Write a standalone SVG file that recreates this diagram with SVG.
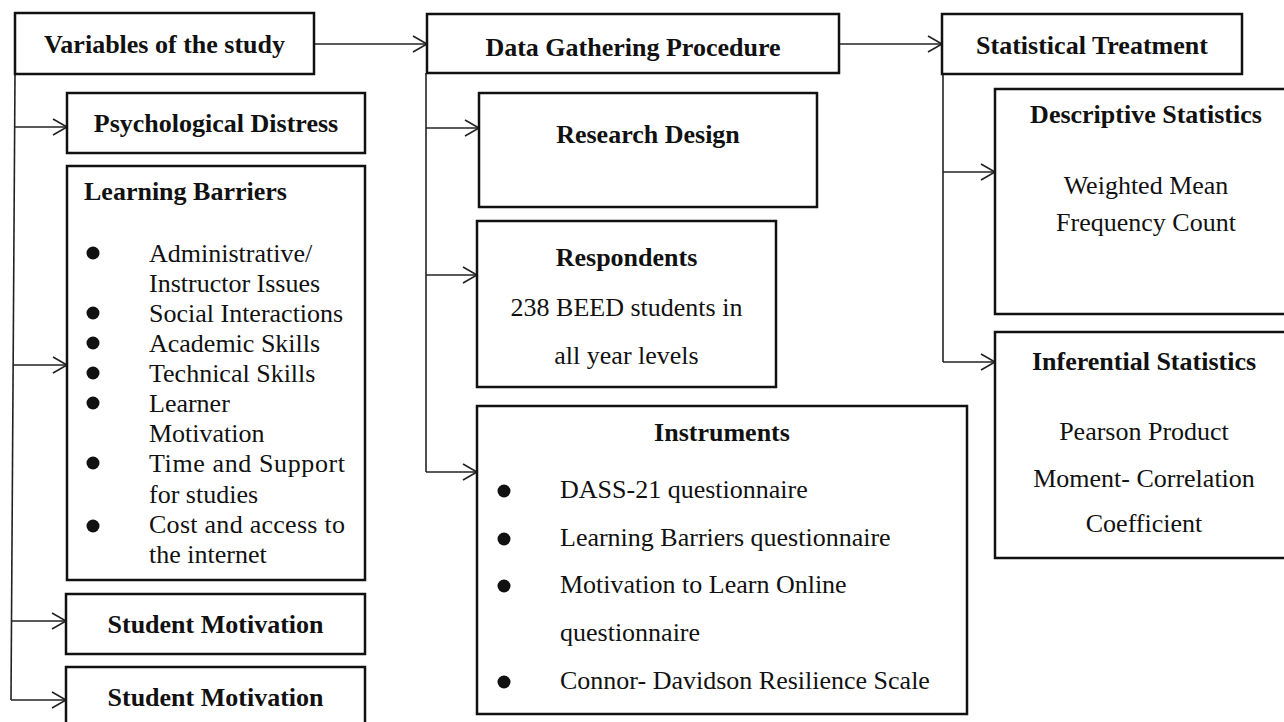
<svg xmlns="http://www.w3.org/2000/svg" width="1284" height="722" viewBox="0 0 1284 722">
<style>
.box{fill:#fff;stroke:#111;stroke-width:2.5}
.t{font-family:"Liberation Serif","Times New Roman",serif;font-size:26px;fill:#111}
.b{font-weight:bold}
.c{text-anchor:middle}
.con{fill:none;stroke:#222;stroke-width:1.6}
.dot{fill:#111}
</style>
<defs>
<marker id="arr" markerUnits="userSpaceOnUse" markerWidth="18" markerHeight="20" refX="15" refY="9" orient="auto">
<path d="M1,1 L15,9 L1,17" fill="none" stroke="#222" stroke-width="1.6"/>
</marker>
</defs>
<rect width="1284" height="722" fill="#fff"/>

<g id="connectors">
<path class="con" d="M15,74 L11,700"/>
<path class="con" d="M14.7,127 L67,127" marker-end="url(#arr)"/>
<path class="con" d="M13.1,365 L67,365" marker-end="url(#arr)"/>
<path class="con" d="M11.5,621 L66,621" marker-end="url(#arr)"/>
<path class="con" d="M11,700 L66,700" marker-end="url(#arr)"/>
<path class="con" d="M314,44 L427,44" marker-end="url(#arr)"/>
<path class="con" d="M839,44 L942,44" marker-end="url(#arr)"/>
<path class="con" d="M426,73 L426,472"/>
<path class="con" d="M426,128 L479,128" marker-end="url(#arr)"/>
<path class="con" d="M426,275 L477,275" marker-end="url(#arr)"/>
<path class="con" d="M426,472 L477,472" marker-end="url(#arr)"/>
<path class="con" d="M943,74 L943,362"/>
<path class="con" d="M943,172 L995,172" marker-end="url(#arr)"/>
<path class="con" d="M943,362 L995,362" marker-end="url(#arr)"/>
</g>

<g id="variables">
<rect class="box" x="15" y="13" width="299" height="61"/>
<text class="t b c" x="164.5" y="53">Variables of the study</text>
</g>

<g id="psych-distress">
<rect class="box" x="67" y="93" width="298" height="60"/>
<text class="t b c" x="216" y="132">Psychological Distress</text>
</g>

<g id="learning-barriers">
<rect class="box" x="67" y="166" width="298" height="414"/>
<text class="t b" x="84" y="200">Learning Barriers</text>
<circle class="dot" cx="93" cy="253" r="6.5"/>
<text class="t" x="149" y="262">Administrative/</text>
<text class="t" x="149" y="292">Instructor Issues</text>
<circle class="dot" cx="93" cy="313" r="6.5"/>
<text class="t" x="149" y="322">Social Interactions</text>
<circle class="dot" cx="93" cy="343" r="6.5"/>
<text class="t" x="149" y="352">Academic Skills</text>
<circle class="dot" cx="93" cy="373" r="6.5"/>
<text class="t" x="149" y="382">Technical Skills</text>
<circle class="dot" cx="93" cy="403" r="6.5"/>
<text class="t" x="149" y="412">Learner</text>
<text class="t" x="149" y="442">Motivation</text>
<circle class="dot" cx="93" cy="463" r="6.5"/>
<text class="t" x="149" y="472" textLength="196" lengthAdjust="spacing">Time and Support</text>
<text class="t" x="149" y="503">for studies</text>
<circle class="dot" cx="93" cy="526" r="6.5"/>
<text class="t" x="149" y="533" textLength="196" lengthAdjust="spacing">Cost and access to</text>
<text class="t" x="149" y="563">the internet</text>
</g>

<g id="student-motivation-1">
<rect class="box" x="66" y="594" width="299" height="60"/>
<text class="t b c" x="215.5" y="633">Student Motivation</text>
</g>

<g id="student-motivation-2">
<rect class="box" x="66" y="667" width="299" height="70"/>
<text class="t b c" x="215.5" y="706">Student Motivation</text>
</g>

<g id="data-gathering">
<rect class="box" x="427" y="14" width="412" height="59"/>
<text class="t b c" x="633" y="56">Data Gathering Procedure</text>
</g>

<g id="research-design">
<rect class="box" x="479" y="93" width="338" height="114"/>
<text class="t b c" x="648" y="143">Research Design</text>
</g>

<g id="respondents">
<rect class="box" x="477" y="221" width="299" height="166"/>
<text class="t b c" x="626.5" y="266">Respondents</text>
<text class="t c" x="626.5" y="316">238 BEED students in</text>
<text class="t c" x="626.5" y="364">all year levels</text>
</g>

<g id="instruments">
<rect class="box" x="477" y="406" width="490" height="308"/>
<text class="t b c" x="722" y="441">Instruments</text>
<circle class="dot" cx="504" cy="491" r="6.5"/>
<text class="t" x="560" y="498">DASS-21 questionnaire</text>
<circle class="dot" cx="504" cy="539" r="6.5"/>
<text class="t" x="560" y="546">Learning Barriers questionnaire</text>
<circle class="dot" cx="504" cy="586" r="6.5"/>
<text class="t" x="560" y="593">Motivation to Learn Online</text>
<text class="t" x="560" y="641">questionnaire</text>
<circle class="dot" cx="504" cy="682" r="6.5"/>
<text class="t" x="560" y="689">Connor- Davidson Resilience Scale</text>
</g>

<g id="statistical-treatment">
<rect class="box" x="942" y="14" width="300" height="60"/>
<text class="t b c" x="1092" y="54">Statistical Treatment</text>
</g>

<g id="descriptive">
<rect class="box" x="995" y="89" width="300" height="225"/>
<text class="t b c" x="1146" y="123">Descriptive Statistics</text>
<text class="t c" x="1146" y="194">Weighted Mean</text>
<text class="t c" x="1146" y="231">Frequency Count</text>
</g>

<g id="inferential">
<rect class="box" x="995" y="332" width="300" height="226"/>
<text class="t b c" x="1144" y="370">Inferential Statistics</text>
<text class="t c" x="1144" y="440">Pearson Product</text>
<text class="t c" x="1144" y="487">Moment- Correlation</text>
<text class="t c" x="1144" y="532">Coefficient</text>
</g>
</svg>
